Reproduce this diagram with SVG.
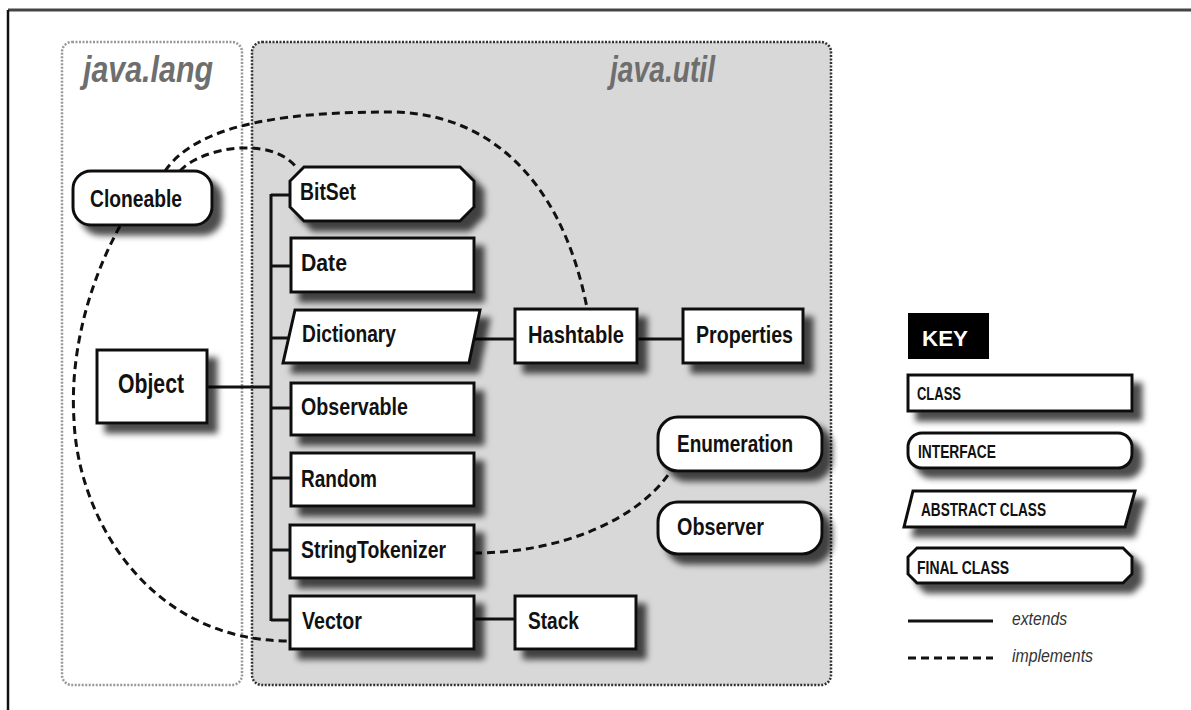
<svg xmlns="http://www.w3.org/2000/svg" width="1191" height="710" viewBox="0 0 1191 710">
  <defs>
    <filter id="sh" x="-20%" y="-30%" width="150%" height="180%">
      <feDropShadow dx="9" dy="9" stdDeviation="3.2" flood-color="#000" flood-opacity="0.7"/>
    </filter>
    <style>
      .node { fill:#fff; stroke:#111; stroke-width:3; filter:url(#sh); }
      .lbl { font-family:"Liberation Sans", Arial, sans-serif; font-weight:bold; font-size:24px; fill:#111; }
      .klbl { font-family:"Liberation Sans", Arial, sans-serif; font-weight:bold; font-size:19px; fill:#111; }
      .pkg { font-family:"Liberation Sans", Arial, sans-serif; font-weight:bold; font-style:italic; font-size:36px; fill:#6e6e6e; }
      .legend { font-family:"Liberation Sans", Arial, sans-serif; font-style:italic; font-size:19px; fill:#333; }
      .ext { fill:none; stroke:#111; stroke-width:3; }
      .impl { fill:none; stroke:#111; stroke-width:3; stroke-dasharray:8 5; }
    </style>
  </defs>

  <rect x="0" y="0" width="1191" height="710" fill="#fff"/>

  <!-- frame -->
  <g id="frame">
    <line x1="8" y1="10" x2="1191" y2="10" stroke="#444" stroke-width="3"/>
    <line x1="8" y1="10" x2="8" y2="710" stroke="#111" stroke-width="2.5"/>
  </g>

  <!-- packages -->
  <g id="pkg-java-lang">
    <rect x="62" y="42" width="180" height="643" rx="10" fill="none" stroke="#999" stroke-width="2.5" stroke-dasharray="2 1.5"/>
    <text class="pkg" x="83" y="82" textLength="130" lengthAdjust="spacingAndGlyphs">java.lang</text>
  </g>
  <g id="pkg-java-util">
    <rect x="252" y="42" width="579" height="643" rx="10" fill="#d8d8d8" stroke="#333" stroke-width="2.5" stroke-dasharray="2 1.5"/>
    <text class="pkg" x="610" y="82" textLength="105" lengthAdjust="spacingAndGlyphs">java.util</text>
  </g>

  <!-- connectors -->
  <g id="connectors">
    <!-- extends -->
    <line class="ext" x1="271" y1="194" x2="271" y2="621"/>
    <line class="ext" x1="207" y1="387" x2="271" y2="387"/>
    <line class="ext" x1="271" y1="195" x2="291" y2="195"/>
    <line class="ext" x1="271" y1="266" x2="291" y2="266"/>
    <line class="ext" x1="271" y1="338" x2="289" y2="338"/>
    <line class="ext" x1="271" y1="408" x2="291" y2="408"/>
    <line class="ext" x1="271" y1="478" x2="291" y2="478"/>
    <line class="ext" x1="271" y1="550" x2="291" y2="550"/>
    <line class="ext" x1="271" y1="620" x2="291" y2="620"/>
    <line class="ext" x1="475" y1="339" x2="515" y2="339"/>
    <line class="ext" x1="637" y1="339" x2="683" y2="339"/>
    <line class="ext" x1="474" y1="619" x2="515" y2="619"/>
    <!-- implements -->
    <path class="impl" d="M165,171 C200,120 300,112 390,112 C480,112 560,170 587,308"/>
    <path class="impl" d="M180,171 C200,148 270,135 296,167"/>
    <path class="impl" d="M120,226 C85,290 70,360 74,420 C78,520 150,641 289,641"/>
    <path class="impl" d="M474,553 C560,553 640,520 672,469"/>
  </g>

  <!-- nodes -->
  <g id="node-cloneable">
    <rect class="node" x="73" y="171" width="139" height="54" rx="18"/>
    <text class="lbl" x="90" y="207" textLength="92" lengthAdjust="spacingAndGlyphs">Cloneable</text>
  </g>
  <g id="node-object">
    <rect class="node" x="97" y="350" width="110" height="73"/>
    <text class="lbl" x="118" y="393" font-size="27" style="font-size:27px" textLength="66" lengthAdjust="spacingAndGlyphs">Object</text>
  </g>
  <g id="node-bitset">
    <polygon class="node" points="304,167 460,167 474,181 474,207 460,221 304,221 290,207 290,181"/>
    <text class="lbl" x="300" y="200" textLength="56" lengthAdjust="spacingAndGlyphs">BitSet</text>
  </g>
  <g id="node-date">
    <rect class="node" x="291" y="238" width="183" height="54"/>
    <text class="lbl" x="301" y="271" textLength="46" lengthAdjust="spacingAndGlyphs">Date</text>
  </g>
  <g id="node-dictionary">
    <polygon class="node" points="295,310 480,310 469,363 283,363"/>
    <text class="lbl" x="302" y="342" textLength="94" lengthAdjust="spacingAndGlyphs">Dictionary</text>
  </g>
  <g id="node-observable">
    <rect class="node" x="291" y="383" width="183" height="52"/>
    <text class="lbl" x="301" y="415" textLength="107" lengthAdjust="spacingAndGlyphs">Observable</text>
  </g>
  <g id="node-random">
    <rect class="node" x="291" y="453" width="183" height="53"/>
    <text class="lbl" x="301" y="487" textLength="76" lengthAdjust="spacingAndGlyphs">Random</text>
  </g>
  <g id="node-stringtokenizer">
    <rect class="node" x="290" y="525" width="184" height="53"/>
    <text class="lbl" x="301" y="558" textLength="145" lengthAdjust="spacingAndGlyphs">StringTokenizer</text>
  </g>
  <g id="node-vector">
    <rect class="node" x="290" y="596" width="184" height="53"/>
    <text class="lbl" x="302" y="629" textLength="60" lengthAdjust="spacingAndGlyphs">Vector</text>
  </g>
  <g id="node-stack">
    <rect class="node" x="515" y="596" width="121" height="53"/>
    <text class="lbl" x="528" y="629" textLength="51" lengthAdjust="spacingAndGlyphs">Stack</text>
  </g>
  <g id="node-hashtable">
    <rect class="node" x="515" y="309" width="122" height="54"/>
    <text class="lbl" x="528" y="343" textLength="96" lengthAdjust="spacingAndGlyphs">Hashtable</text>
  </g>
  <g id="node-properties">
    <rect class="node" x="683" y="309" width="120" height="54"/>
    <text class="lbl" x="696" y="343" textLength="97" lengthAdjust="spacingAndGlyphs">Properties</text>
  </g>
  <g id="node-enumeration">
    <rect class="node" x="658" y="417" width="164" height="54" rx="20"/>
    <text class="lbl" x="677" y="452" textLength="116" lengthAdjust="spacingAndGlyphs">Enumeration</text>
  </g>
  <g id="node-observer">
    <rect class="node" x="658" y="502" width="164" height="52" rx="20"/>
    <text class="lbl" x="677" y="535" textLength="87" lengthAdjust="spacingAndGlyphs">Observer</text>
  </g>

  <!-- key -->
  <g id="key">
    <rect x="908" y="313" width="81" height="46" fill="#000"/>
    <text class="klbl" x="922" y="346" style="fill:#fff;font-size:22px" textLength="46" lengthAdjust="spacingAndGlyphs">KEY</text>
  </g>
  <g id="key-class">
    <rect class="node" x="908" y="375" width="224" height="36"/>
    <text class="klbl" x="917" y="400" textLength="44" lengthAdjust="spacingAndGlyphs">CLASS</text>
  </g>
  <g id="key-interface">
    <rect class="node" x="908" y="433" width="224" height="35" rx="14"/>
    <text class="klbl" x="918" y="458" textLength="78" lengthAdjust="spacingAndGlyphs">INTERFACE</text>
  </g>
  <g id="key-abstract">
    <polygon class="node" points="913,491 1135,491 1125,527 904,527"/>
    <text class="klbl" x="921" y="516" textLength="125" lengthAdjust="spacingAndGlyphs">ABSTRACT CLASS</text>
  </g>
  <g id="key-final">
    <polygon class="node" points="917,548 1123,548 1132,557 1132,574 1123,583 917,583 908,574 908,557"/>
    <text class="klbl" x="917" y="574" textLength="92" lengthAdjust="spacingAndGlyphs">FINAL CLASS</text>
  </g>
  <g id="key-extends">
    <line class="ext" x1="908" y1="621" x2="993" y2="621"/>
    <text class="legend" x="1012" y="625" textLength="55" lengthAdjust="spacingAndGlyphs">extends</text>
  </g>
  <g id="key-implements">
    <line class="impl" x1="908" y1="658" x2="993" y2="658" stroke-dasharray="9 6"/>
    <text class="legend" x="1012" y="662" textLength="81" lengthAdjust="spacingAndGlyphs">implements</text>
  </g>
</svg>
